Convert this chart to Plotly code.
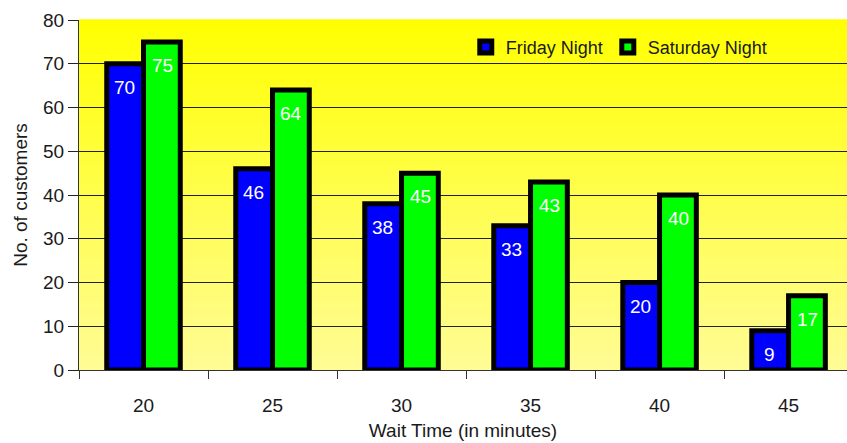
import plotly.graph_objects as go

# Wait-time survey: number of customers per wait time, by night
wait_times = ["20", "25", "30", "35", "40", "45"]
friday = [70, 46, 38, 33, 20, 9]
saturday = [75, 64, 45, 43, 40, 17]
series_names = ["Friday Night", "Saturday Night"]
y_ticks = [0, 10, 20, 30, 40, 50, 60, 70, 80]

FONT = "Arial, Liberation Sans, sans-serif"
TXT = "#1a1a1a"

fig = go.Figure()
for name, vals, col in [(series_names[0], friday, "#0000ff"),
                        (series_names[1], saturday, "#00ff00")]:
    fig.add_trace(go.Bar(
        name=name, x=wait_times, y=vals,
        marker=dict(color=col, line=dict(color="black", width=5)),
    ))

# value labels just inside the top of each bar
annotations = []
for offset, vals in [(-0.145, friday), (0.145, saturday)]:
    for i, v in enumerate(vals):
        annotations.append(dict(
            x=i + offset, y=v, xref="x", yref="y", text=str(v),
            showarrow=False, yanchor="top", yshift=-11,
            font=dict(family=FONT, size=19, color="white"),
        ))

# vertical yellow gradient behind the plot area
shapes = []
n = 70
top = (255, 255, 0)
bot = (255, 252, 150)
for k in range(n):
    t = (k + 0.5) / n
    r = round(top[0] + (bot[0] - top[0]) * t)
    g = round(top[1] + (bot[1] - top[1]) * t)
    b = round(top[2] + (bot[2] - top[2]) * t)
    shapes.append(dict(
        type="rect", xref="paper", yref="paper",
        x0=0, x1=1, y0=1 - (k + 1) / n, y1=1 - k / n + 0.002,
        fillcolor=f"rgb({r},{g},{b})", line=dict(width=0), layer="below",
    ))

fig.update_layout(
    width=847, height=443,
    margin=dict(l=79, r=0, t=20, b=73),
    paper_bgcolor="white", plot_bgcolor="rgba(0,0,0,0)",
    barmode="group", bargap=0.43, bargroupgap=0,
    font=dict(family=FONT, size=19, color=TXT),
    shapes=shapes, annotations=annotations,
    legend=dict(orientation="h", x=0.5036, y=0.975, xanchor="left", yanchor="top",
                bgcolor="rgba(0,0,0,0)", font=dict(size=18, color=TXT),
                itemwidth=30, tracegroupgap=0),
    xaxis=dict(
        type="category", range=[-0.5, 5.453],
        tickson="boundaries", ticks="outside", ticklen=8, tickcolor="#333",
        showline=True, linecolor="#333", linewidth=1,
        showgrid=False, ticklabelstandoff=18,
        title=dict(text="Wait Time (in minutes)", standoff=8,
                   font=dict(size=19, color=TXT)),
        tickfont=dict(size=19, color=TXT),
    ),
    yaxis=dict(
        range=[0, 80], tickvals=y_ticks, ticks="outside", ticklen=10,
        tickcolor="#222", showline=True, linecolor="#333", linewidth=1,
        showgrid=True, gridcolor="#222", gridwidth=1, zeroline=False,
        title=dict(text="No. of customers", standoff=10,
                   font=dict(size=19, color=TXT)),
        tickfont=dict(size=19, color=TXT),
    ),
)

fig.write_html("out.html")
